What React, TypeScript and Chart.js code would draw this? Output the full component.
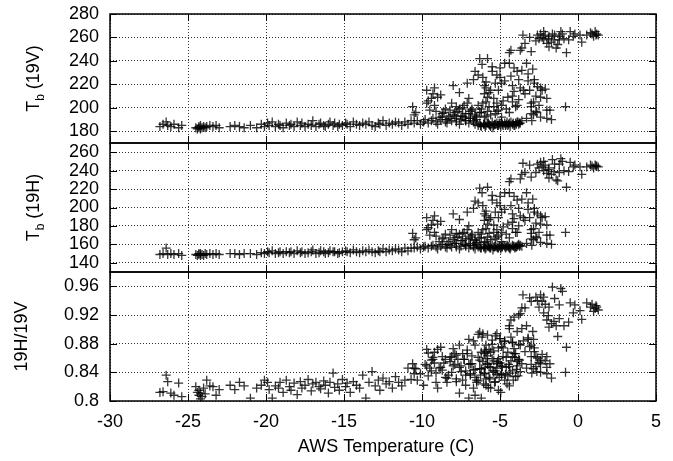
import { useEffect, useRef } from "react";
import { Chart, registerables } from "chart.js";
Chart.register(...registerables);

// AWS temperature (C) for each observation
const temperature = [
  -26.8, -26.6, -26.4, -26.3, -26.1, -25.9, -25.6, -25.4,
  -24.5, -24.4, -24.3, -24.3, -24.2, -24.2, -24.1, -24.0, -23.9, -23.8, -23.6, -23.4, -23.2, -23.0,
  -22.3, -22.0, -21.7, -21.4, -21.0, -20.6,
  -20.3, -20.1, -19.9, -19.8, -19.6, -19.4, -19.2, -19.1, -18.9,
  -18.7, -18.5, -18.4, -18.2, -18.0, -17.8, -17.7, -17.5, -17.3, -17.1,
  -17.0, -16.8, -16.6, -16.5, -16.3, -16.2, -16.0, -15.9, -15.7, -15.6,
  -15.4, -15.3, -15.1, -14.9, -14.8, -14.6, -14.4, -14.2, -14.0, -13.8,
  -13.6, -13.4, -13.2, -13.0, -12.8, -12.7, -12.5, -12.3, -12.1, -11.9,
  -11.7, -11.5, -11.3, -11.1, -10.9, -10.7,
  -10.5, -10.3, -10.1, -9.9, -9.8, -9.6, -9.4, -9.3, -9.1, -9.0,
  -8.8, -8.7, -8.5, -8.4, -8.2, -8.1, -7.9, -7.8, -7.6, -7.5,
  -7.3, -7.2, -7.0, -6.9, -6.7, -6.6,
  -6.4, -6.3, -6.2, -6.0, -5.9, -5.8, -5.7, -5.6, -5.5, -5.4,
  -5.3, -5.2, -5.1, -5.0, -4.9, -4.8, -4.7, -4.6, -4.5, -4.4,
  -4.3, -4.2, -4.1, -4.0, -3.9, -3.8, -3.7, -3.6,
  -6.25, -6.05, -5.95, -5.75, -5.65, -5.45, -5.35, -5.15, -5.05, -4.95,
  -4.85, -4.65, -4.55, -4.45, -4.35, -4.15, -4.05, -3.95, -3.85, -3.75,
  -10.6, -10.4, -10.5, -9.7, -9.2, -9.3, -9.4, -9.7, -9.2, -9.5,
  -9.1, -8.7, -8.5, -8.3, -8.1, -8.0, -7.9, -7.8, -7.6, -7.4,
  -7.3, -7.2, -7.1, -7.1, -7.0, -6.9, -6.8, -6.7, -6.7, -6.6,
  -6.6, -6.5, -6.4, -6.3, -6.2, -6.15, -6.1, -6.1, -6.0, -6.0,
  -5.9, -5.9, -5.9, -5.9, -5.8, -5.8, -5.7, -5.7, -5.6, -5.5,
  -5.5, -5.4, -5.3, -5.2, -5.2, -5.2, -5.1, -5.0, -4.9, -4.9,
  -4.7, -4.5, -4.4, -4.4, -4.3, -4.3, -4.2, -4.2, -4.1, -4.1,
  -3.9, -3.9, -3.8, -3.7, -3.7, -3.5, -3.4, -3.4, -3.3, -3.3,
  -3.2, -3.1, -3.0, -3.0, -3.0, -2.96, -2.85, -2.85, -2.8, -2.8,
  -2.7, -2.7, -2.64, -2.6, -2.5, -2.4, -2.4, -2.4, -2.3, -2.1,
  -2.0, -2.0, -2.0, -1.8, -1.7, -0.8,
  -3.53, -3.6, -3.0, -3.1, -2.6, -2.4, -2.2, -2.5, -2.2, -2.0,
  -1.86, -1.64, -1.54, -1.3, -1.2, -1.1, -1.0, -0.9, -1.86, -1.4,
  -0.74, -0.5, -0.2, 0.13, 0.24, 0.56, 0.9, 1.1, 1.2, 1.3,
  1.0, -2.3, -2.1, -1.9, -1.7, -1.5, -1.2, -0.3, 0.8, 1.15,
  -2.7, -0.6,
  -8.9, -8.6, -8.4, -8.2, -8.0, -7.8, -7.7, -7.5, -7.4, -7.2,
  -7.0, -6.9, -6.8, -6.6, -6.5, -6.3, -6.2, -6.0, -5.8, -5.6,
  -5.4, -5.3, -5.1, -4.9, -4.8, -4.6, -4.4, -4.2, -4.0, -3.8,
  -9.6, -9.0, -8.8, -7.6, -6.4, -5.0, -4.7, -3.6, -3.2, -2.9,
];

// Tb (19V), K
const tb19V = [
  184, 186, 188, 185, 184, 186, 183, 185,
  183, 182, 184, 183, 182, 185, 183, 184, 183, 184, 185, 184, 185, 183,
  184, 185, 184, 183, 185, 183,
  186, 184, 187, 185, 188, 184, 186, 185, 183,
  187, 185, 186, 184, 188, 185, 187, 184, 186, 185,
  189, 184, 186, 187, 185, 184, 186, 188, 185, 187,
  184, 186, 185, 187, 186, 184, 188, 186, 185, 187,
  186, 188, 185, 184, 187, 186, 189, 185, 187, 186,
  188, 187, 185, 188, 186, 189,
  187, 189, 186, 188, 190, 187, 189, 191, 188, 186,
  190, 192, 188, 187, 191, 189, 193, 188, 186, 190,
  192, 189, 187, 191, 188, 186,
  185, 187, 184, 186, 185, 187, 186, 184, 188, 185,
  186, 187, 185, 186, 188, 185, 187, 186, 185, 187,
  188, 186, 185, 187, 188, 186, 187, 189,
  185, 186, 184, 187, 185, 183, 186, 185, 187, 184,
  186, 185, 188, 186, 184, 187, 185, 186, 188, 187,
  201, 196, 194, 215, 217, 212, 208, 204, 202, 198,
  197, 195, 199, 193, 204, 219, 196, 201, 199, 193,
  202, 195, 221, 204, 208, 197, 199, 224, 189, 231,
  194, 192, 202, 242, 196, 237, 226, 204, 219, 212,
  222, 217, 205, 193, 242, 209, 213, 201, 215, 235,
  231, 208, 221, 228, 204, 197, 215, 234, 221, 202,
  238, 209, 247, 238, 249, 227, 219, 205, 234, 214,
  231, 202, 224, 249, 217, 215, 255, 212, 238, 191,
  229, 215, 204, 201, 195, 189, 205, 194, 224, 221,
  210, 197, 196, 218, 202, 217, 209, 192, 215, 216,
  208, 198, 191, 198, 190, 201,
  262, 251, 248, 260, 262, 263, 265, 259, 258, 255,
  261, 263, 258, 254, 261, 265, 263, 259, 252, 251,
  247, 265, 263, 262, 256, 262, 263, 265, 263, 262,
  261, 260, 262, 259, 256, 262, 258, 261, 264, 262,
  257, 258,
  192, 196, 190, 198, 194, 191, 197, 193, 200, 189,
  195, 191, 198, 193, 190, 196, 199, 192, 197, 194,
  201, 195, 198, 192, 206, 199, 196, 210, 201, 207,
  206, 209, 211, 213, 228, 226, 223, 232, 223, 233,
];

// Tb (19H), K
const tb19H = [
  149, 150, 156, 149, 150, 149, 150, 148,
  149, 148, 150, 149, 148, 150, 149, 148, 150, 149, 150, 149, 150, 149,
  150, 150, 149, 150, 150, 149,
  151, 150, 152, 151, 153, 150, 151, 152, 150,
  152, 151, 152, 150, 153, 151, 152, 150, 151, 152,
  154, 150, 151, 153, 152, 150, 151, 153, 152, 152,
  150, 151, 152, 153, 152, 151, 154, 152, 151, 153,
  152, 154, 152, 151, 153, 152, 155, 152, 154, 153,
  155, 154, 152, 156, 153, 156,
  156, 157, 155, 157, 158, 156, 158, 159, 157, 155,
  158, 160, 157, 156, 159, 157, 161, 157, 155, 158,
  160, 158, 156, 159, 157, 155,
  157, 158, 156, 157, 156, 158, 157, 156, 159, 157,
  158, 157, 156, 158, 157, 159, 158, 157, 158, 156,
  157, 159, 158, 157, 158, 160, 159, 158,
  156, 157, 155, 158, 156, 154, 157, 156, 158, 155,
  157, 156, 159, 157, 155, 158, 156, 157, 159, 158,
  172, 167, 165, 189, 191, 186, 181, 176, 173, 170,
  169, 166, 171, 163, 176, 193, 167, 172, 171, 164,
  173, 166, 195, 176, 180, 168, 171, 199, 159, 207,
  165, 162, 173, 221, 167, 216, 202, 176, 193, 186,
  196, 191, 177, 163, 222, 182, 187, 172, 189, 213,
  208, 181, 195, 205, 176, 168, 189, 212, 195, 173,
  216, 182, 228, 216, 231, 202, 193, 177, 212, 188,
  208, 173, 199, 231, 191, 189, 238, 186, 216, 161,
  205, 189, 176, 172, 166, 159, 177, 165, 199, 195,
  183, 168, 167, 193, 173, 191, 182, 162, 189, 190,
  181, 170, 161, 170, 160, 173,
  248, 236, 233, 246, 247, 249, 250, 243, 240, 237,
  243, 252, 239, 229, 247, 253, 250, 240, 232, 230,
  222, 249, 246, 244, 236, 244, 245, 246, 245, 244,
  243, 244, 246, 241, 236, 247, 238, 244, 246, 245,
  238, 239,
  163, 167, 160, 170, 165, 161, 168, 164, 172, 159,
  166, 161, 170, 164, 160, 167, 171, 162, 168, 165,
  173, 166, 170, 163, 179, 171, 167, 184, 173, 180,
  178, 182, 185, 187, 205, 202, 198, 209, 198, 209,
];

// 19H/19V ratio
const ratio19H19V = [
  0.812, 0.813, 0.836, 0.827, 0.811, 0.808, 0.825, 0.806,
  0.820, 0.812, 0.808, 0.815, 0.803, 0.811, 0.806, 0.818, 0.810, 0.829, 0.821, 0.820, 0.808, 0.816,
  0.822, 0.816, 0.826, 0.821, 0.804, 0.818,
  0.822, 0.829, 0.826, 0.816, 0.804, 0.821, 0.818, 0.826, 0.812,
  0.829, 0.820, 0.815, 0.825, 0.809, 0.827, 0.818, 0.822, 0.830, 0.814,
  0.824, 0.826, 0.820, 0.817, 0.828, 0.822, 0.811, 0.826, 0.839, 0.819,
  0.824, 0.815, 0.830, 0.820, 0.825, 0.812, 0.827, 0.822, 0.818, 0.836,
  0.804, 0.826, 0.841, 0.821, 0.829, 0.815, 0.832, 0.824, 0.827, 0.818,
  0.834, 0.826, 0.821, 0.829, 0.846, 0.830,
  0.846, 0.829, 0.838, 0.822, 0.851, 0.835, 0.842, 0.858, 0.826, 0.818,
  0.847, 0.862, 0.833, 0.826, 0.855, 0.840, 0.866, 0.831, 0.811, 0.849,
  0.858, 0.836, 0.804, 0.852, 0.843, 0.808,
  0.828, 0.845, 0.804, 0.838, 0.822, 0.851, 0.833, 0.818, 0.859, 0.840,
  0.827, 0.846, 0.815, 0.853, 0.838, 0.862, 0.829, 0.847, 0.835, 0.821,
  0.856, 0.842, 0.866, 0.834, 0.849, 0.858, 0.841, 0.852,
  0.836, 0.824, 0.847, 0.819, 0.831, 0.842, 0.826, 0.855, 0.833, 0.812,
  0.848, 0.837, 0.824, 0.851, 0.839, 0.829, 0.861, 0.844, 0.835, 0.857,
  0.852, 0.845, 0.838, 0.872, 0.868, 0.861, 0.857, 0.849, 0.853, 0.846,
  0.839, 0.843, 0.858, 0.836, 0.862, 0.873, 0.851, 0.864, 0.847, 0.829,
  0.858, 0.842, 0.871, 0.866, 0.886, 0.838, 0.852, 0.884, 0.818, 0.878,
  0.833, 0.826, 0.861, 0.896, 0.845, 0.889, 0.894, 0.855, 0.871, 0.866,
  0.878, 0.869, 0.859, 0.831, 0.892, 0.863, 0.872, 0.848, 0.868, 0.885,
  0.879, 0.856, 0.891, 0.894, 0.852, 0.837, 0.874, 0.887, 0.876, 0.849,
  0.883, 0.868, 0.901, 0.905, 0.913, 0.889, 0.881, 0.862, 0.917, 0.873,
  0.897, 0.855, 0.920, 0.922, 0.878, 0.884, 0.930, 0.869, 0.905, 0.846,
  0.888, 0.876, 0.862, 0.878, 0.851, 0.839, 0.886, 0.845, 0.869, 0.874,
  0.862, 0.848, 0.841, 0.860, 0.854, 0.857, 0.852, 0.840, 0.865, 0.856,
  0.862, 0.847, 0.838, 0.852, 0.832, 0.840,
  0.948, 0.930, 0.939, 0.944, 0.940, 0.948, 0.945, 0.931, 0.923, 0.913,
  0.931, 0.959, 0.911, 0.890, 0.934, 0.957, 0.953, 0.905, 0.903, 0.905,
  0.875, 0.937, 0.934, 0.926, 0.914, 0.937, 0.935, 0.929, 0.931, 0.927,
  0.925, 0.939, 0.935, 0.919, 0.908, 0.943, 0.915, 0.923, 0.931, 0.933,
  0.945, 0.910,
  0.846, 0.853, 0.832, 0.861, 0.849, 0.827, 0.858, 0.841, 0.866, 0.822,
  0.851, 0.836, 0.863, 0.844, 0.829, 0.857, 0.868, 0.839, 0.852, 0.847,
  0.870, 0.842, 0.859, 0.836, 0.874, 0.861, 0.848, 0.882, 0.866, 0.879,
  0.867, 0.872, 0.875, 0.878, 0.893, 0.887, 0.884, 0.901, 0.886, 0.897,
];

const xTicks = [-30, -25, -20, -15, -10, -5, 0, 5];
const ticks19V = [180, 200, 220, 240, 260, 280];
const ticks19H = [140, 160, 180, 200, 220, 240, 260];
const ticksRatio = [0.8, 0.84, 0.88, 0.92, 0.96];
const xTitle = "AWS Temperature (C)";

const FONT = "'Liberation Sans', Arial, Helvetica, sans-serif";

const framePlugin = {
  id: "panelFrame",
  afterDraw(chart: any) {
    const { ctx, chartArea: ca, scales } = chart;
    const xs = scales.x;
    ctx.save();
    ctx.strokeStyle = "#000";
    const panels: [string, number[]][] = [
      ["yV", ticks19V],
      ["yH", ticks19H],
      ["yR", ticksRatio],
    ];
    for (const [id, tks] of panels) {
      const s = scales[id];
      const top = Math.round(s.top);
      const bot = Math.round(s.bottom);
      ctx.lineWidth = 1;
      ctx.setLineDash([]);
      ctx.beginPath();
      for (const v of tks) {
        const p = Math.round(s.getPixelForValue(v)) + 0.5;
        ctx.moveTo(ca.left, p);
        ctx.lineTo(ca.left + 7, p);
        ctx.moveTo(ca.right - 7, p);
        ctx.lineTo(ca.right, p);
      }
      for (const v of xTicks) {
        const p = Math.round(xs.getPixelForValue(v)) + 0.5;
        ctx.moveTo(p, top);
        ctx.lineTo(p, top + 7);
        ctx.moveTo(p, bot);
        ctx.lineTo(p, bot - 7);
      }
      ctx.stroke();
      ctx.lineWidth = 1.5;
      ctx.strokeRect(Math.round(ca.left), top, Math.round(ca.right - ca.left), bot - top);
    }

    const drawRotated = (parts: { t: string; size: number; dy: number }[], bx: number, cy: number) => {
      ctx.save();
      ctx.translate(bx, cy);
      ctx.rotate(-Math.PI / 2);
      ctx.fillStyle = "#000";
      ctx.textBaseline = "alphabetic";
      ctx.textAlign = "left";
      let total = 0;
      const widths = parts.map((p) => {
        ctx.font = `${p.size}px ${FONT}`;
        const w = ctx.measureText(p.t).width;
        total += w;
        return w;
      });
      let x = -total / 2;
      parts.forEach((p, i) => {
        ctx.font = `${p.size}px ${FONT}`;
        ctx.fillText(p.t, x, p.dy);
        x += widths[i];
      });
      ctx.restore();
    };
    const cV = (scales.yV.top + scales.yV.bottom) / 2;
    const cH = (scales.yH.top + scales.yH.bottom) / 2;
    const cR = (scales.yR.top + scales.yR.bottom) / 2;
    drawRotated([{ t: "T", size: 18, dy: 0 }, { t: "b", size: 12, dy: 5 }, { t: " (19V)", size: 18, dy: 0 }], 39, cV);
    drawRotated([{ t: "T", size: 18, dy: 0 }, { t: "b", size: 12, dy: 5 }, { t: " (19H)", size: 18, dy: 0 }], 39, cH);
    drawRotated([{ t: "19H/19V", size: 18, dy: 0 }], 27, cR);

    ctx.fillStyle = "#000";
    ctx.font = `18px ${FONT}`;
    ctx.textAlign = "center";
    ctx.textBaseline = "alphabetic";
    ctx.fillText(xTitle, (ca.left + ca.right) / 2 + 3, 452);
    ctx.restore();
  },
};

function makeY(min: number, max: number, tks: number[], weight: number, fmt: (v: number) => string) {
  return {
    type: "linear",
    position: "left",
    stack: "panels",
    stackWeight: 1,
    weight,
    offset: false,
    min,
    max,
    afterBuildTicks: (scale: any) => {
      scale.ticks = tks.map((v) => ({ value: v }));
    },
    afterFit: (scale: any) => {
      scale.width = 110;
      scale.paddingTop = 0;
      scale.paddingBottom = 0;
    },
    ticks: {
      color: "#000",
      font: { family: FONT, size: 18 },
      padding: 11,
      autoSkip: false,
      callback: (v: any) => fmt(Number(v)),
    },
    grid: {
      color: "#333",
      lineWidth: 1,
      drawTicks: false,
    },
    border: { display: false, dash: [1, 2] },
  };
}

export default function App() {
  const ref = useRef<HTMLCanvasElement | null>(null);
  useEffect(() => {
    if (!ref.current) return;
    const pts = (ys: number[]) => temperature.map((t, i) => ({ x: t, y: ys[i] }));
    const ds = (label: string, ys: number[], axis: string) => ({
      label,
      data: pts(ys),
      yAxisID: axis,
      xAxisID: "x",
      pointStyle: "cross",
      pointRadius: 4.5,
      pointBorderWidth: 1.3,
      borderColor: "rgba(0,0,0,0.8)",
      backgroundColor: "rgba(0,0,0,0.8)",
      showLine: false,
    });
    const chart = new Chart(ref.current, {
      type: "scatter",
      data: {
        datasets: [
          ds("Tb (19V)", tb19V, "yV"),
          ds("Tb (19H)", tb19H, "yH"),
          ds("19H/19V", ratio19H19V, "yR"),
        ],
      },
      options: {
        animation: false,
        responsive: false,
        devicePixelRatio: 1,
        events: [],
        layout: { padding: { top: 14, right: 17, left: 0, bottom: 0 } },
        plugins: { legend: { display: false }, tooltip: { enabled: false } },
        scales: {
          x: {
            type: "linear",
            position: "bottom",
            min: -30,
            max: 5,
            afterBuildTicks: (scale: any) => {
              scale.ticks = xTicks.map((v) => ({ value: v }));
            },
            afterFit: (scale: any) => {
              scale.height = 60;
            },
            ticks: {
              color: "#000",
              font: { family: FONT, size: 18 },
              padding: 10,
              maxRotation: 0,
              autoSkip: false,
              callback: (v: any) => String(v),
            },
            grid: { color: "#333", lineWidth: 1, drawTicks: false },
            border: { display: false, dash: [1, 2] },
          },
          yR: makeY(0.8, 0.98, ticksRatio, 1, (v) => String(Math.round(v * 100) / 100)),
          yH: makeY(130, 270, ticks19H, 2, (v) => String(v)),
          yV: makeY(170, 280, ticks19V, 3, (v) => String(v)),
        } as any,
      },
      plugins: [framePlugin],
    } as any);
    return () => chart.destroy();
  }, []);
  return (
    <div style={{ position: "absolute", left: 0, top: 0, width: 673, height: 461, background: "#fff" }}>
      <canvas ref={ref} width={673} height={461} style={{ display: "block" }} />
    </div>
  );
}
